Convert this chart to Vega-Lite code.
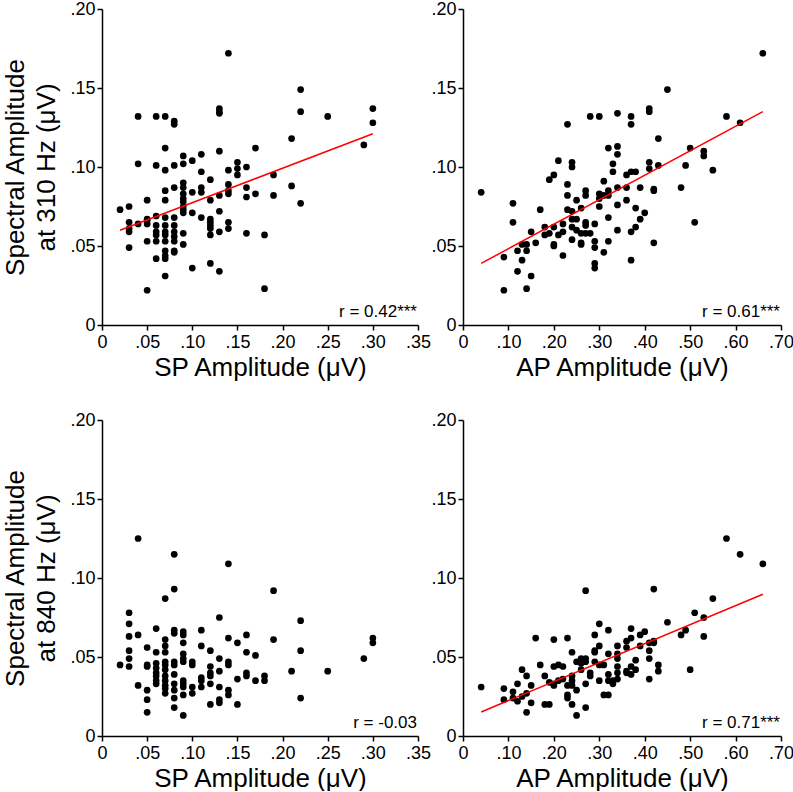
{
  "$schema": "https://vega.github.io/schema/vega-lite/v6.json",
  "padding": {"left": 2, "top": 0, "right": 0, "bottom": 0},
  "background": "white",
  "config": {
    "font": "Liberation Sans",
    "view": {"stroke": null},
    "axis": {"domainColor": "black", "domainWidth": 1.5, "tickColor": "black", "tickWidth": 1.5, "tickSize": 5, "labelColor": "black", "labelFontSize": 18, "labelFont": "Liberation Sans", "labelPadding": 2, "titleFont": "Liberation Sans", "titleFontSize": 26, "titleFontWeight": "normal", "titleColor": "black", "grid": false, "labelFlush": false, "labelOverlap": false},
    "axisY": {"titlePadding": 10, "titleLineHeight": 31},
    "axisX": {"titlePadding": 3, "labelPadding": 3}
  },
  "datasets": {
    "p1": [
      {"x":0.02,"y":0.073},
      {"x":0.03,"y":0.075},{"x":0.03,"y":0.065},{"x":0.03,"y":0.061},{"x":0.03,"y":0.059},{"x":0.03,"y":0.049},
      {"x":0.04,"y":0.132},{"x":0.04,"y":0.102},{"x":0.04,"y":0.064},
      {"x":0.05,"y":0.079},{"x":0.05,"y":0.067},{"x":0.05,"y":0.066},{"x":0.05,"y":0.064},{"x":0.05,"y":0.053},{"x":0.05,"y":0.022},
      {"x":0.06,"y":0.132},{"x":0.06,"y":0.101},{"x":0.06,"y":0.069},{"x":0.06,"y":0.063},{"x":0.06,"y":0.059},{"x":0.06,"y":0.057},{"x":0.06,"y":0.053},{"x":0.06,"y":0.042},
      {"x":0.07,"y":0.132},{"x":0.07,"y":0.112},{"x":0.07,"y":0.098},{"x":0.07,"y":0.085},{"x":0.07,"y":0.079},{"x":0.07,"y":0.068},{"x":0.07,"y":0.063},{"x":0.07,"y":0.059},{"x":0.07,"y":0.057},{"x":0.07,"y":0.053},{"x":0.07,"y":0.047},{"x":0.07,"y":0.044},{"x":0.07,"y":0.042},{"x":0.07,"y":0.031},
      {"x":0.08,"y":0.129},{"x":0.08,"y":0.127},{"x":0.08,"y":0.101},{"x":0.08,"y":0.087},{"x":0.08,"y":0.068},{"x":0.08,"y":0.063},{"x":0.08,"y":0.059},{"x":0.08,"y":0.056},{"x":0.08,"y":0.053},{"x":0.08,"y":0.047},{"x":0.08,"y":0.046},
      {"x":0.09,"y":0.107},{"x":0.09,"y":0.102},{"x":0.09,"y":0.090},{"x":0.09,"y":0.087},{"x":0.09,"y":0.083},{"x":0.09,"y":0.080},{"x":0.09,"y":0.078},{"x":0.09,"y":0.075},{"x":0.09,"y":0.073},{"x":0.09,"y":0.071},{"x":0.09,"y":0.058},{"x":0.09,"y":0.051},
      {"x":0.10,"y":0.104},{"x":0.10,"y":0.084},{"x":0.10,"y":0.071},{"x":0.10,"y":0.036},
      {"x":0.11,"y":0.108},{"x":0.11,"y":0.097},{"x":0.11,"y":0.087},{"x":0.11,"y":0.084},{"x":0.11,"y":0.068},
      {"x":0.12,"y":0.092},{"x":0.12,"y":0.079},{"x":0.12,"y":0.067},{"x":0.12,"y":0.065},{"x":0.12,"y":0.063},{"x":0.12,"y":0.061},{"x":0.12,"y":0.057},{"x":0.12,"y":0.039},
      {"x":0.13,"y":0.137},{"x":0.13,"y":0.135},{"x":0.13,"y":0.134},{"x":0.13,"y":0.110},{"x":0.13,"y":0.082},{"x":0.13,"y":0.072},{"x":0.13,"y":0.059},{"x":0.13,"y":0.034},
      {"x":0.14,"y":0.172},{"x":0.14,"y":0.098},{"x":0.14,"y":0.089},{"x":0.14,"y":0.085},{"x":0.14,"y":0.083},{"x":0.14,"y":0.065},{"x":0.14,"y":0.061},
      {"x":0.15,"y":0.103},{"x":0.15,"y":0.099},{"x":0.15,"y":0.095},
      {"x":0.16,"y":0.100},{"x":0.16,"y":0.087},{"x":0.16,"y":0.081},{"x":0.16,"y":0.058},
      {"x":0.17,"y":0.112},{"x":0.17,"y":0.083},
      {"x":0.18,"y":0.057},{"x":0.18,"y":0.023},
      {"x":0.19,"y":0.095},{"x":0.19,"y":0.082},
      {"x":0.21,"y":0.118},{"x":0.21,"y":0.088},
      {"x":0.22,"y":0.149},{"x":0.22,"y":0.135},{"x":0.22,"y":0.077},
      {"x":0.25,"y":0.132},
      {"x":0.29,"y":0.114},
      {"x":0.30,"y":0.137},{"x":0.30,"y":0.128}
    ],
    "p2": [
      {"x":0.04,"y":0.084},
      {"x":0.09,"y":0.043},{"x":0.09,"y":0.022},
      {"x":0.11,"y":0.077},{"x":0.11,"y":0.065},
      {"x":0.12,"y":0.047},{"x":0.12,"y":0.034},
      {"x":0.13,"y":0.051},{"x":0.13,"y":0.041},
      {"x":0.14,"y":0.051},{"x":0.14,"y":0.047},{"x":0.14,"y":0.023},
      {"x":0.15,"y":0.059},{"x":0.15,"y":0.031},
      {"x":0.16,"y":0.052},
      {"x":0.17,"y":0.073},
      {"x":0.18,"y":0.062},{"x":0.18,"y":0.057},
      {"x":0.19,"y":0.092},{"x":0.19,"y":0.058},
      {"x":0.20,"y":0.095},{"x":0.20,"y":0.062},{"x":0.20,"y":0.051},{"x":0.20,"y":0.050},
      {"x":0.21,"y":0.104},{"x":0.21,"y":0.057},
      {"x":0.22,"y":0.064},{"x":0.22,"y":0.059},{"x":0.22,"y":0.044},
      {"x":0.23,"y":0.127},{"x":0.23,"y":0.089},{"x":0.23,"y":0.082},{"x":0.23,"y":0.073},
      {"x":0.24,"y":0.103},{"x":0.24,"y":0.100},{"x":0.24,"y":0.072},{"x":0.24,"y":0.067},{"x":0.24,"y":0.062},{"x":0.24,"y":0.054},
      {"x":0.25,"y":0.079},{"x":0.25,"y":0.067},{"x":0.25,"y":0.060},
      {"x":0.26,"y":0.074},{"x":0.26,"y":0.058},{"x":0.26,"y":0.052},{"x":0.26,"y":0.051},
      {"x":0.27,"y":0.085},{"x":0.27,"y":0.082},{"x":0.27,"y":0.065},{"x":0.27,"y":0.063},{"x":0.27,"y":0.058},
      {"x":0.28,"y":0.132},{"x":0.28,"y":0.058},
      {"x":0.29,"y":0.064},{"x":0.29,"y":0.053},{"x":0.29,"y":0.049},{"x":0.29,"y":0.039},{"x":0.29,"y":0.036},
      {"x":0.30,"y":0.132},{"x":0.30,"y":0.083},{"x":0.30,"y":0.080},{"x":0.30,"y":0.075},
      {"x":0.31,"y":0.091},{"x":0.31,"y":0.082},{"x":0.31,"y":0.046},
      {"x":0.32,"y":0.112},{"x":0.32,"y":0.085},{"x":0.32,"y":0.082},{"x":0.32,"y":0.068},{"x":0.32,"y":0.053},
      {"x":0.33,"y":0.102},{"x":0.33,"y":0.097},
      {"x":0.34,"y":0.134},{"x":0.34,"y":0.113},{"x":0.34,"y":0.108},{"x":0.34,"y":0.087},{"x":0.34,"y":0.076},{"x":0.34,"y":0.060},
      {"x":0.36,"y":0.095},{"x":0.36,"y":0.087},{"x":0.36,"y":0.079},
      {"x":0.37,"y":0.132},{"x":0.37,"y":0.127},{"x":0.37,"y":0.097},{"x":0.37,"y":0.059},{"x":0.37,"y":0.041},
      {"x":0.38,"y":0.097},{"x":0.38,"y":0.074},{"x":0.38,"y":0.062},
      {"x":0.39,"y":0.087},{"x":0.39,"y":0.067},
      {"x":0.40,"y":0.071},
      {"x":0.41,"y":0.137},{"x":0.41,"y":0.135},{"x":0.41,"y":0.103},{"x":0.41,"y":0.099},
      {"x":0.42,"y":0.086},{"x":0.42,"y":0.085},{"x":0.42,"y":0.052},
      {"x":0.43,"y":0.118},{"x":0.43,"y":0.101},
      {"x":0.45,"y":0.149},
      {"x":0.48,"y":0.087},
      {"x":0.49,"y":0.101},
      {"x":0.50,"y":0.112},
      {"x":0.51,"y":0.065},
      {"x":0.53,"y":0.110},{"x":0.53,"y":0.107},
      {"x":0.55,"y":0.098},
      {"x":0.58,"y":0.132},
      {"x":0.61,"y":0.128},
      {"x":0.66,"y":0.172}
    ],
    "p3": [
      {"x":0.02,"y":0.045},
      {"x":0.03,"y":0.078},{"x":0.03,"y":0.071},{"x":0.03,"y":0.063},{"x":0.03,"y":0.054},{"x":0.03,"y":0.049},{"x":0.03,"y":0.044},
      {"x":0.04,"y":0.125},{"x":0.04,"y":0.064},{"x":0.04,"y":0.032},
      {"x":0.05,"y":0.056},{"x":0.05,"y":0.045},{"x":0.05,"y":0.044},{"x":0.05,"y":0.029},{"x":0.05,"y":0.023},{"x":0.05,"y":0.015},
      {"x":0.06,"y":0.068},{"x":0.06,"y":0.053},{"x":0.06,"y":0.046},{"x":0.06,"y":0.043},{"x":0.06,"y":0.040},{"x":0.06,"y":0.038},{"x":0.06,"y":0.035},{"x":0.06,"y":0.033},
      {"x":0.07,"y":0.087},{"x":0.07,"y":0.061},{"x":0.07,"y":0.057},{"x":0.07,"y":0.053},{"x":0.07,"y":0.047},{"x":0.07,"y":0.045},{"x":0.07,"y":0.042},{"x":0.07,"y":0.038},{"x":0.07,"y":0.035},{"x":0.07,"y":0.032},{"x":0.07,"y":0.030},{"x":0.07,"y":0.027},
      {"x":0.08,"y":0.115},{"x":0.08,"y":0.093},{"x":0.08,"y":0.067},{"x":0.08,"y":0.065},{"x":0.08,"y":0.047},{"x":0.08,"y":0.045},{"x":0.08,"y":0.039},{"x":0.08,"y":0.033},{"x":0.08,"y":0.029},{"x":0.08,"y":0.024},{"x":0.08,"y":0.018},
      {"x":0.09,"y":0.066},{"x":0.09,"y":0.064},{"x":0.09,"y":0.059},{"x":0.09,"y":0.052},{"x":0.09,"y":0.049},{"x":0.09,"y":0.047},{"x":0.09,"y":0.035},{"x":0.09,"y":0.033},{"x":0.09,"y":0.031},{"x":0.09,"y":0.026},{"x":0.09,"y":0.013},
      {"x":0.10,"y":0.047},{"x":0.10,"y":0.045},{"x":0.10,"y":0.031},{"x":0.10,"y":0.027},
      {"x":0.11,"y":0.067},{"x":0.11,"y":0.057},{"x":0.11,"y":0.037},{"x":0.11,"y":0.035},{"x":0.11,"y":0.031},
      {"x":0.12,"y":0.054},{"x":0.12,"y":0.044},{"x":0.12,"y":0.040},{"x":0.12,"y":0.038},{"x":0.12,"y":0.033},{"x":0.12,"y":0.020},
      {"x":0.13,"y":0.075},{"x":0.13,"y":0.049},{"x":0.13,"y":0.041},{"x":0.13,"y":0.031},{"x":0.13,"y":0.023},{"x":0.13,"y":0.021},
      {"x":0.14,"y":0.109},{"x":0.14,"y":0.062},{"x":0.14,"y":0.047},{"x":0.14,"y":0.045},{"x":0.14,"y":0.029},{"x":0.14,"y":0.026},
      {"x":0.15,"y":0.059},{"x":0.15,"y":0.036},{"x":0.15,"y":0.020},
      {"x":0.16,"y":0.064},{"x":0.16,"y":0.053},{"x":0.16,"y":0.040},{"x":0.16,"y":0.038},
      {"x":0.17,"y":0.051},{"x":0.17,"y":0.035},
      {"x":0.18,"y":0.038},{"x":0.18,"y":0.035},
      {"x":0.19,"y":0.092},{"x":0.19,"y":0.061},
      {"x":0.21,"y":0.041},
      {"x":0.22,"y":0.073},{"x":0.22,"y":0.054},{"x":0.22,"y":0.024},
      {"x":0.25,"y":0.041},
      {"x":0.29,"y":0.049},
      {"x":0.30,"y":0.062},{"x":0.30,"y":0.059}
    ],
    "p4": [
      {"x":0.04,"y":0.031},
      {"x":0.09,"y":0.030},{"x":0.09,"y":0.023},
      {"x":0.11,"y":0.028},{"x":0.11,"y":0.024},
      {"x":0.12,"y":0.033},{"x":0.12,"y":0.022},
      {"x":0.13,"y":0.042},{"x":0.13,"y":0.025},
      {"x":0.14,"y":0.038},{"x":0.14,"y":0.027},{"x":0.14,"y":0.015},
      {"x":0.15,"y":0.032},{"x":0.15,"y":0.021},
      {"x":0.16,"y":0.062},
      {"x":0.17,"y":0.045},
      {"x":0.18,"y":0.038},{"x":0.18,"y":0.020},
      {"x":0.19,"y":0.034},{"x":0.19,"y":0.020},
      {"x":0.20,"y":0.061},{"x":0.20,"y":0.044},{"x":0.20,"y":0.033},{"x":0.20,"y":0.032},
      {"x":0.21,"y":0.045},{"x":0.21,"y":0.035},
      {"x":0.22,"y":0.044},{"x":0.22,"y":0.036},
      {"x":0.23,"y":0.062},{"x":0.23,"y":0.032},{"x":0.23,"y":0.026},{"x":0.23,"y":0.024},
      {"x":0.24,"y":0.053},{"x":0.24,"y":0.038},{"x":0.24,"y":0.035},{"x":0.24,"y":0.032},{"x":0.24,"y":0.020},
      {"x":0.25,"y":0.047},{"x":0.25,"y":0.029},{"x":0.25,"y":0.013},
      {"x":0.26,"y":0.049},{"x":0.26,"y":0.046},{"x":0.26,"y":0.042},
      {"x":0.27,"y":0.092},{"x":0.27,"y":0.049},{"x":0.27,"y":0.047},{"x":0.27,"y":0.033},{"x":0.27,"y":0.018},
      {"x":0.28,"y":0.040},{"x":0.28,"y":0.038},
      {"x":0.29,"y":0.064},{"x":0.29,"y":0.054},{"x":0.29,"y":0.053},{"x":0.29,"y":0.047},
      {"x":0.30,"y":0.071},{"x":0.30,"y":0.057},{"x":0.30,"y":0.045},{"x":0.30,"y":0.035},
      {"x":0.31,"y":0.045},{"x":0.31,"y":0.026},
      {"x":0.32,"y":0.067},{"x":0.32,"y":0.052},{"x":0.32,"y":0.039},{"x":0.32,"y":0.035},{"x":0.32,"y":0.026},
      {"x":0.33,"y":0.035},{"x":0.33,"y":0.033},
      {"x":0.34,"y":0.057},{"x":0.34,"y":0.052},{"x":0.34,"y":0.049},{"x":0.34,"y":0.044},{"x":0.34,"y":0.040},{"x":0.34,"y":0.036},
      {"x":0.36,"y":0.060},{"x":0.36,"y":0.056},{"x":0.36,"y":0.041},{"x":0.36,"y":0.040},
      {"x":0.37,"y":0.068},{"x":0.37,"y":0.062},{"x":0.37,"y":0.044},{"x":0.37,"y":0.039},
      {"x":0.38,"y":0.048},{"x":0.38,"y":0.042},
      {"x":0.39,"y":0.064},{"x":0.39,"y":0.057},
      {"x":0.40,"y":0.066},
      {"x":0.41,"y":0.059},{"x":0.41,"y":0.054},{"x":0.41,"y":0.049},{"x":0.41,"y":0.036},
      {"x":0.42,"y":0.093},{"x":0.42,"y":0.060},{"x":0.42,"y":0.059},
      {"x":0.43,"y":0.045},{"x":0.43,"y":0.041},
      {"x":0.45,"y":0.072},
      {"x":0.48,"y":0.064},
      {"x":0.49,"y":0.067},
      {"x":0.50,"y":0.042},
      {"x":0.51,"y":0.078},
      {"x":0.53,"y":0.075},{"x":0.53,"y":0.063},
      {"x":0.55,"y":0.087},
      {"x":0.58,"y":0.125},
      {"x":0.61,"y":0.115},
      {"x":0.66,"y":0.109}
    ],
    "l1": [{"x":0.02,"y":0.060},{"x":0.30,"y":0.121}],
    "l2": [{"x":0.04,"y":0.039},{"x":0.66,"y":0.135}],
    "l4": [{"x":0.04,"y":0.0152},{"x":0.66,"y":0.0897}]
  },
  "columns": 2,
  "spacing": {"row": 95, "column": 45},
  "bounds": "flush",
  "concat": [
    {
      "width": 316, "height": 316,
      "layer": [
        {"data": {"name": "p1"}, "mark": {"type": "circle", "size": 45, "color": "black", "opacity": 1},
         "encoding": {
           "x": {"field": "x", "type": "quantitative", "scale": {"domain": [0, 0.35], "nice": false}, "axis": {"values": [0,0.05,0.1,0.15,0.2,0.25,0.3,0.35], "labelExpr": "datum.value == 0 ? '0' : replace(format(datum.value, '.2f'), '0.', '.')", "title": "SP Amplitude (μV)"}},
           "y": {"field": "y", "type": "quantitative", "scale": {"domain": [0, 0.2], "nice": false}, "axis": {"values": [0,0.05,0.1,0.15,0.2], "labelExpr": "datum.value == 0 ? '0' : replace(format(datum.value, '.2f'), '0.', '.')", "title": ["Spectral Amplitude", "at 310 Hz (μV)"]}}
         }},
        {"data": {"name": "l1"}, "mark": {"type": "line", "color": "#ff0000", "strokeWidth": 1.5},
         "encoding": {"x": {"field": "x", "type": "quantitative"}, "y": {"field": "y", "type": "quantitative"}}},
        {"data": {"values": [{"t": "r = 0.42***"}]}, "mark": {"type": "text", "align": "right", "baseline": "alphabetic", "fontSize": 17, "dy": -8, "dx": -1, "color": "black"},
         "encoding": {"x": {"datum": 0.35}, "y": {"datum": 0}, "text": {"field": "t"}}}
      ]
    },
    {
      "width": 318, "height": 316,
      "layer": [
        {"data": {"name": "p2"}, "mark": {"type": "circle", "size": 45, "color": "black", "opacity": 1},
         "encoding": {
           "x": {"field": "x", "type": "quantitative", "scale": {"domain": [0, 0.7], "nice": false}, "axis": {"values": [0,0.1,0.2,0.3,0.4,0.5,0.6,0.7], "labelExpr": "datum.value == 0 ? '0' : replace(format(datum.value, '.2f'), '0.', '.')", "title": "AP Amplitude (μV)"}},
           "y": {"field": "y", "type": "quantitative", "scale": {"domain": [0, 0.2], "nice": false}, "axis": {"values": [0,0.05,0.1,0.15,0.2], "labelExpr": "datum.value == 0 ? '0' : replace(format(datum.value, '.2f'), '0.', '.')", "title": null}}
         }},
        {"data": {"name": "l2"}, "mark": {"type": "line", "color": "#ff0000", "strokeWidth": 1.5},
         "encoding": {"x": {"field": "x", "type": "quantitative"}, "y": {"field": "y", "type": "quantitative"}}},
        {"data": {"values": [{"t": "r = 0.61***"}]}, "mark": {"type": "text", "align": "right", "baseline": "alphabetic", "fontSize": 17, "dy": -8, "dx": -1, "color": "black"},
         "encoding": {"x": {"datum": 0.7}, "y": {"datum": 0}, "text": {"field": "t"}}}
      ]
    },
    {
      "width": 316, "height": 316,
      "layer": [
        {"data": {"name": "p3"}, "mark": {"type": "circle", "size": 45, "color": "black", "opacity": 1},
         "encoding": {
           "x": {"field": "x", "type": "quantitative", "scale": {"domain": [0, 0.35], "nice": false}, "axis": {"values": [0,0.05,0.1,0.15,0.2,0.25,0.3,0.35], "labelExpr": "datum.value == 0 ? '0' : replace(format(datum.value, '.2f'), '0.', '.')", "title": "SP Amplitude (μV)"}},
           "y": {"field": "y", "type": "quantitative", "scale": {"domain": [0, 0.2], "nice": false}, "axis": {"values": [0,0.05,0.1,0.15,0.2], "labelExpr": "datum.value == 0 ? '0' : replace(format(datum.value, '.2f'), '0.', '.')", "title": ["Spectral Amplitude", "at 840 Hz (μV)"]}}
         }},
        {"data": {"values": [{"t": "r = -0.03"}]}, "mark": {"type": "text", "align": "right", "baseline": "alphabetic", "fontSize": 17, "dy": -8, "dx": -1, "color": "black"},
         "encoding": {"x": {"datum": 0.35}, "y": {"datum": 0}, "text": {"field": "t"}}}
      ]
    },
    {
      "width": 318, "height": 316,
      "layer": [
        {"data": {"name": "p4"}, "mark": {"type": "circle", "size": 45, "color": "black", "opacity": 1},
         "encoding": {
           "x": {"field": "x", "type": "quantitative", "scale": {"domain": [0, 0.7], "nice": false}, "axis": {"values": [0,0.1,0.2,0.3,0.4,0.5,0.6,0.7], "labelExpr": "datum.value == 0 ? '0' : replace(format(datum.value, '.2f'), '0.', '.')", "title": "AP Amplitude (μV)"}},
           "y": {"field": "y", "type": "quantitative", "scale": {"domain": [0, 0.2], "nice": false}, "axis": {"values": [0,0.05,0.1,0.15,0.2], "labelExpr": "datum.value == 0 ? '0' : replace(format(datum.value, '.2f'), '0.', '.')", "title": null}}
         }},
        {"data": {"name": "l4"}, "mark": {"type": "line", "color": "#ff0000", "strokeWidth": 1.5},
         "encoding": {"x": {"field": "x", "type": "quantitative"}, "y": {"field": "y", "type": "quantitative"}}},
        {"data": {"values": [{"t": "r = 0.71***"}]}, "mark": {"type": "text", "align": "right", "baseline": "alphabetic", "fontSize": 17, "dy": -8, "dx": -1, "color": "black"},
         "encoding": {"x": {"datum": 0.7}, "y": {"datum": 0}, "text": {"field": "t"}}}
      ]
    }
  ]
}
